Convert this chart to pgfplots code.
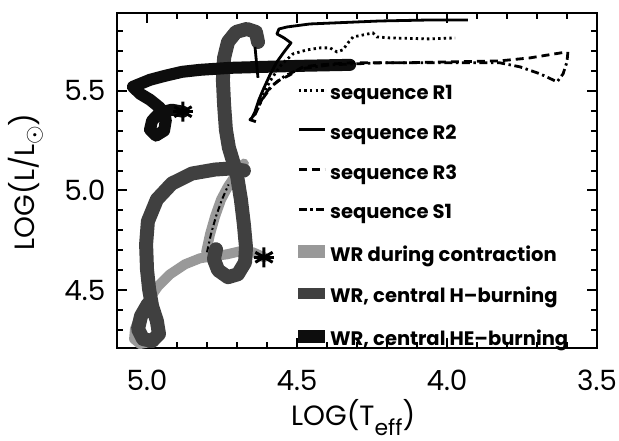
\documentclass[border=0pt]{standalone}
\usepackage{fontspec}
\setmainfont{Poppins}
\usepackage{pgfplots}
\pgfplotsset{compat=1.18}
\begin{document}
\begin{tikzpicture}
\begin{axis}[
  scale only axis, width=240bp, height=167.5bp,
  x dir=reverse, xmin=3.5, xmax=5.1, ymin=4.21, ymax=5.89,
  xtick={3.5,4.0,4.5,5.0}, ytick={4.5,5.0,5.5},
  minor xtick={3.6,3.7,3.8,3.9,4.1,4.2,4.3,4.4,4.6,4.7,4.8,4.9},
  minor ytick={4.3,4.4,4.6,4.7,4.8,4.9,5.1,5.2,5.3,5.4,5.6,5.7,5.8},
  tick align=inside, major tick length=5bp, minor tick length=3bp,
  axis line style={line width=1.2bp},
  every tick/.style={black, line width=1bp},
  ticklabel style={font=\fontsize{14}{16}\selectfont},
  xticklabel style={yshift=-7.5bp},
  yticklabel style={xshift=-2.3bp},
  /pgf/number format/fixed, /pgf/number format/fixed zerofill,
  /pgf/number format/precision=1, /pgf/number format/assume math mode=true,
  xlabel={LOG(T\raisebox{-5bp}{\fontsize{11}{13}\selectfont eff})},
  xlabel style={at={(axis description cs:0.492,-0.230)}, anchor=base, font=\fontsize{14}{16}\selectfont},
  ylabel={LOG(L/L\raisebox{-3bp}{\fontsize{13}{14}\selectfont$\odot$})},
  ylabel style={at={(axis description cs:-0.19,0.496)}, anchor=center, font=\fontsize{14}{16}\selectfont},
  legend style={at={(axis cs:4.50,5.5225)}, anchor=north west, draw=none, fill=none,
    inner sep=0pt, row sep=11.35bp, column sep=2bp,
    font=\fontsize{9.8}{11}\selectfont\bfseries,
    nodes={inner sep=0pt, text height=6.5bp, text depth=2bp}},
  legend cell align=left,
  legend entries={sequence R1, sequence R2, sequence R3, sequence S1, WR during contraction, {WR, central H--burning}, {WR, central HE--burning}},
]
\addlegendimage{legend image code/.code={\draw[black, line width=1.4bp, dash pattern=on 1.2bp off 1.6bp] (0bp,2.5bp) -- (13bp,2.5bp);}}
\addlegendimage{legend image code/.code={\draw[black, line width=1.4bp] (0bp,2.5bp) -- (13bp,2.5bp);}}
\addlegendimage{legend image code/.code={\draw[black, line width=1.4bp, dash pattern=on 4bp off 2.5bp] (0bp,2.5bp) -- (13bp,2.5bp);}}
\addlegendimage{legend image code/.code={\draw[black, line width=1.4bp, dash pattern=on 4bp off 1.8bp on 1.2bp off 1.8bp] (0bp,2.5bp) -- (13bp,2.5bp);}}
\addlegendimage{legend image code/.code={\fill[black!40] (0bp,-0.5bp) rectangle (13bp,5.5bp);}}
\addlegendimage{legend image code/.code={\fill[black!75] (0bp,0bp) rectangle (13bp,5bp);}}
\addlegendimage{legend image code/.code={\fill[black!95] (0bp,-0.5bp) rectangle (13bp,5.5bp);}}

% WR during contraction (light)
\addplot[forget plot, black!40, line width=5bp, line join=round, line cap=round] coordinates {
(4.610,4.665) (4.647,4.690) (4.690,4.695) (4.733,4.680) (4.780,4.670) (4.823,4.660)
(4.873,4.630) (4.923,4.580) (4.963,4.520) (4.993,4.455) (5.020,4.380) (5.040,4.305)
(5.043,4.255) (5.023,4.230) (4.990,4.240)};
\addplot[forget plot, black!40, line width=5bp, line join=round, line cap=round] coordinates {
(4.803,4.690) (4.790,4.780) (4.773,4.870) (4.753,4.955) (4.730,5.020) (4.703,5.080) (4.677,5.135)};
\addplot[forget plot, black, line width=1bp, dash pattern=on 3bp off 1.5bp on 1bp off 1.5bp] coordinates {
(4.800,4.690) (4.787,4.780) (4.770,4.870) (4.750,4.955) (4.728,5.030)};

% WR central H-burning (dense)
\addplot[forget plot, black!75, line width=7bp, line join=round, line cap=round] coordinates {
(4.630,5.745) (4.637,5.795) (4.667,5.810) (4.703,5.795) (4.730,5.745) (4.743,5.665)
(4.747,5.555) (4.743,5.430) (4.737,5.305) (4.727,5.215) (4.713,5.145) (4.700,5.075)
(4.687,4.955) (4.677,4.830) (4.670,4.715) (4.673,4.640) (4.697,4.580) (4.730,4.565)
(4.763,4.600) (4.777,4.655) (4.770,4.705)};
\addplot[forget plot, black!75, line width=7bp, line join=round, line cap=round] coordinates {
(4.677,5.100) (4.723,5.110) (4.773,5.105) (4.850,5.085) (4.917,5.035) (4.967,4.955)
(4.997,4.845) (5.003,4.730) (5.000,4.605) (4.993,4.505) (4.983,4.420) (4.967,4.345)
(4.960,4.280) (4.983,4.245) (5.013,4.255) (5.030,4.305) (5.020,4.370) (4.997,4.430)};

% WR central HE-burning (dark)
\addplot[forget plot, black!95, line width=6bp, line join=round, line cap=round] coordinates {
(4.880,5.395) (4.917,5.405) (4.957,5.390) (4.983,5.350) (4.990,5.305) (4.970,5.275)
(4.943,5.300) (4.937,5.355) (4.957,5.415) (4.990,5.455) (5.023,5.485) (5.047,5.520)
(4.990,5.555) (4.940,5.575) (4.883,5.595) (4.823,5.605) (4.723,5.615) (4.607,5.620)
(4.490,5.625) (4.323,5.630)};

% sequence R1 (dotted)
\addplot[forget plot, black, line width=1.4bp, dash pattern=on 1.2bp off 1.6bp] coordinates {
(4.643,5.375) (4.630,5.430) (4.610,5.495) (4.583,5.565) (4.550,5.635) (4.513,5.685)
(4.467,5.705) (4.423,5.715) (4.390,5.715) (4.367,5.695) (4.347,5.705) (4.330,5.740)
(4.313,5.770) (4.280,5.780) (4.247,5.790) (4.233,5.770) (4.190,5.765) (4.057,5.760) (3.973,5.765)};
% sequence R2 (solid)
\addplot[forget plot, black, line width=1.4bp, line join=round] coordinates {
(4.637,5.345) (4.657,5.355) (4.650,5.365) (4.640,5.395) (4.627,5.455) (4.610,5.515)
(4.590,5.580) (4.567,5.645) (4.543,5.695) (4.520,5.740) (4.543,5.765) (4.567,5.785)
(4.560,5.810) (4.533,5.820) (4.457,5.835) (4.380,5.840) (4.223,5.850) (4.057,5.855) (3.930,5.855)};
\addplot[forget plot, black, line width=1.4bp] coordinates {(4.640,5.720) (4.630,5.565)};
% sequence R3 (dashed)
\addplot[forget plot, black, line width=1.4bp, dash pattern=on 4bp off 2.5bp] coordinates {
(4.647,5.370) (4.630,5.415) (4.613,5.470) (4.590,5.515) (4.563,5.550) (4.523,5.580)
(4.480,5.620) (4.423,5.630) (4.323,5.640) (4.157,5.640) (3.990,5.645) (3.823,5.650)
(3.723,5.665) (3.600,5.695)};
% sequence S1 (dash-dot)
\addplot[forget plot, black, line width=1.4bp, dash pattern=on 4bp off 1.8bp on 1.2bp off 1.8bp] coordinates {
(4.640,5.380) (4.617,5.455) (4.583,5.525) (4.540,5.575) (4.490,5.610) (4.390,5.630)
(4.223,5.640) (3.990,5.640) (3.823,5.640) (3.757,5.620) (3.690,5.585) (3.633,5.545)
(3.613,5.585) (3.600,5.645) (3.597,5.695)};

% end points
\addplot[forget plot, only marks, mark=asterisk, mark size=5bp, mark options={line width=1.5bp, black}] coordinates {
(4.880,5.395) (4.610,4.665)};
\addplot[forget plot, only marks, mark=-, mark size=5bp, mark options={line width=1.5bp, black}] coordinates {
(4.880,5.395) (4.610,4.665)};
\end{axis}
\pgfresetboundingbox
\path[use as bounding box] ([xshift=-58.5bp,yshift=-46.5bp]current axis.south west) rectangle ([xshift=11bp,yshift=6.5bp]current axis.north east);
\end{tikzpicture}
\end{document}
